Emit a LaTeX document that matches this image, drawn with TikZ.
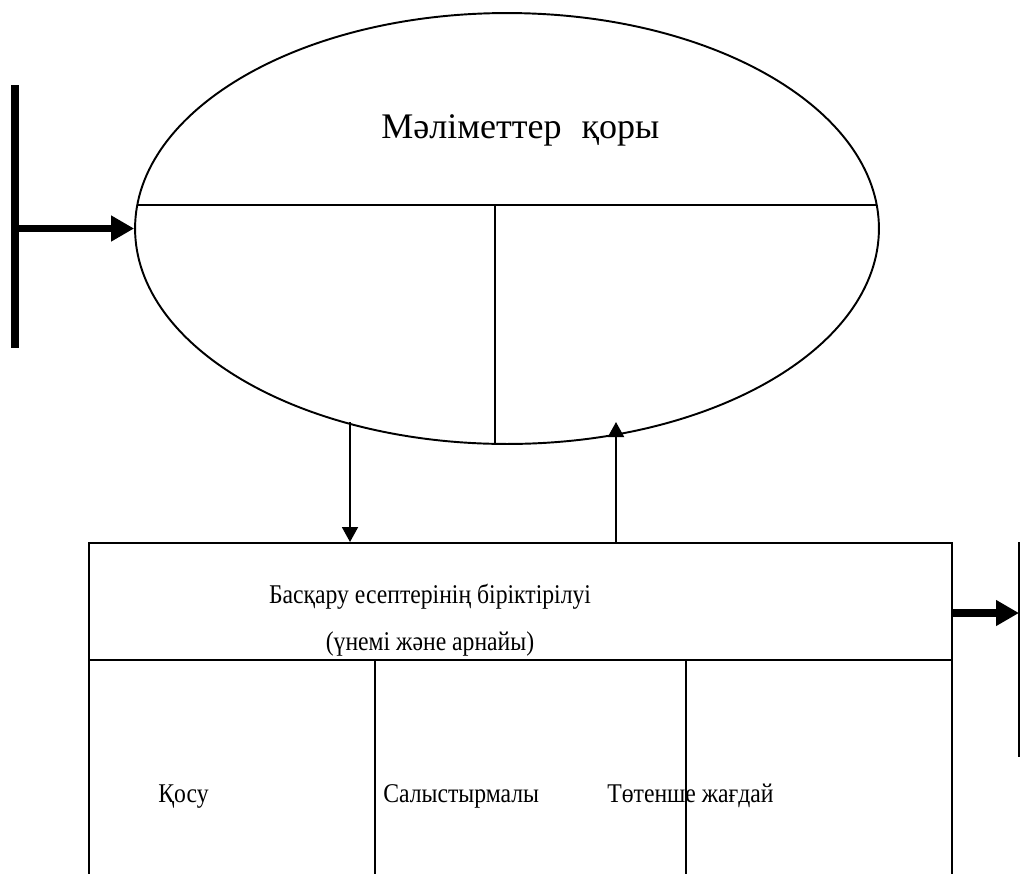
\documentclass[tikz,border=0pt]{standalone}
\usepackage{fontspec}
\setmainfont{Liberation Serif}
\newfontfamily\kzfont[FakeStretch=0.875]{Liberation Serif}
\usepackage{tikz}
\usetikzlibrary{positioning,arrows.meta,shapes.geometric,calc}
\tikzset{
  store/.style={
    ellipse,
    draw,
    line width=1.1pt,
    minimum width=14.88cm,
    minimum height=8.62cm,
    inner sep=0pt
  },
  taskbox/.style={
    rectangle,
    draw,
    line width=1.1pt,
    minimum width=17.26cm,
    minimum height=7.16cm,
    inner sep=0pt
  },
  title/.style={
    anchor=base west,
    inner sep=0pt,
    font=\fontsize{20.5}{24}\selectfont
  },
  tasktext/.style={
    anchor=base,
    inner sep=0pt,
    font=\kzfont\fontsize{15.4}{18}\selectfont
  },
  thin/.style={
    line width=1.1pt
  },
  flow/.style={
    -{Triangle[length=0.3cm,width=0.32cm]},
    line width=1.1pt
  },
  bigflow/.style={
    -{Triangle[length=0.46cm,width=0.49cm]},
    line width=4.5pt
  },
  bar/.style={
    line width=4.5pt
  }
}
\begin{document}
\begin{tikzpicture}[x=0.02cm,y=-0.02cm]
  \useasboundingbox (0,0) rectangle (1020,873);
  \clip (0,0) rectangle (1020,873);

  % Data store
  \node[store] (db) at (507,228.5) {};
  \node[title] (dbname) at (381,138) {Мәліметтер\hspace{0.4cm}қоры};
  \draw[thin] (137,205) -- (877,205);
  \draw[thin] (495,205) -- (495,444);

  % Integration of tasks
  \node[taskbox, anchor=north west] (tasks) at (88,542) {};
  \coordinate (split) at (88,660);
  \draw[thin] (split) -- (split -| tasks.east);
  \draw[thin] (375,660) -- (375,900);
  \draw[thin] (686,660) -- (686,900);

  \node[tasktext] (head1) at (430,603) {Басқару есептерінің біріктірілуі};
  \node[tasktext] (head2) at (430,650) {(үнемі және арнайы)};
  \node[tasktext, anchor=base west] (add) at (158,802) {Қосу};
  \node[tasktext, anchor=base west] (cmp) at (383,802) {Салыстырмалы};
  \node[tasktext, anchor=base west] (emg) at (607,802) {Төтенше жағдай};

  % Flows between store and tasks
  \coordinate (up) at (616,422);
  \draw[flow] (350,422) -- (350,422 |- tasks.north);
  \draw[flow] (up |- tasks.north) -- (up);

  % Source on the left
  \coordinate (srcT) at (15,85);
  \coordinate (srcB) at (15,348);
  \draw[bar] (srcT) -- (srcB);
  \draw[bigflow] (srcT |- db.west) -- (db.west);

  % Output on the right
  \coordinate (outT) at (1019,542);
  \coordinate (outB) at (1019,757);
  \draw[thin] (outT) -- (outB);
  \draw[bigflow] (tasks.east |- 0,613) -- (outT |- 0,613);
\end{tikzpicture}
\end{document}
